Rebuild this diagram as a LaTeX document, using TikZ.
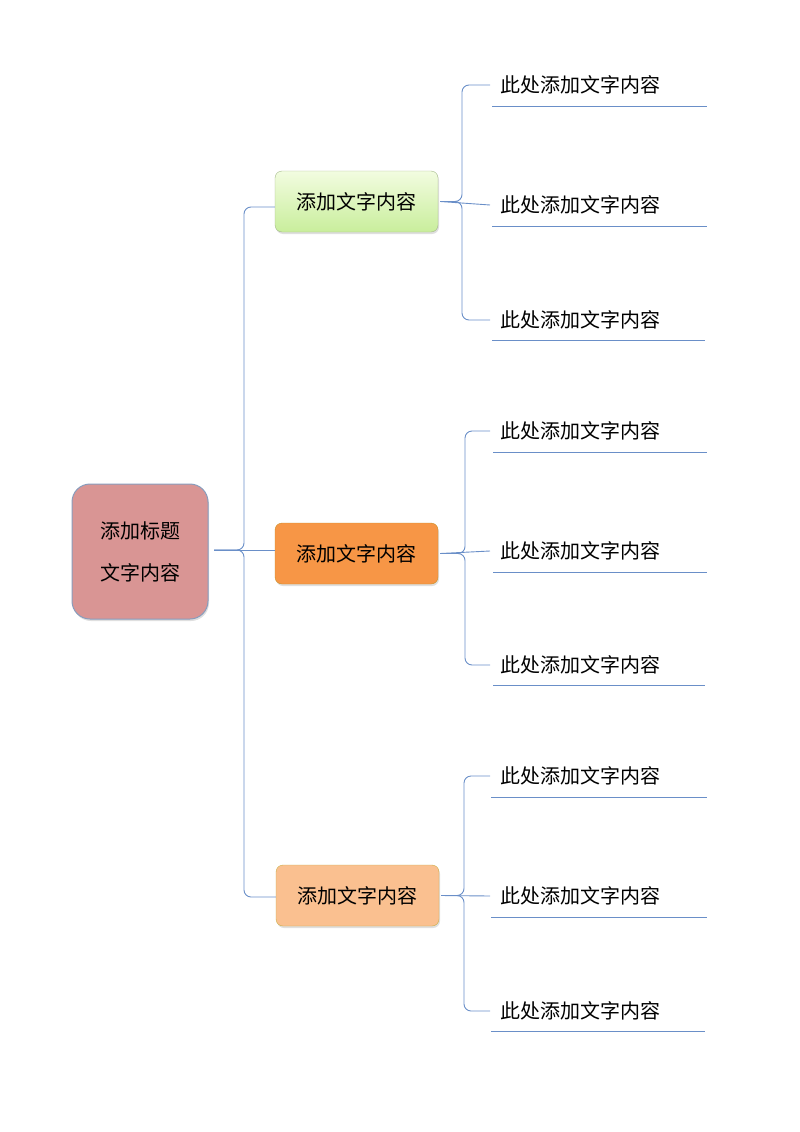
\documentclass[tikz,border=0pt]{standalone}
\usepackage{fontspec}
\setmainfont{Noto Sans CJK SC}
\usetikzlibrary{shadows}
\definecolor{ln}{HTML}{6A8FC8}
\definecolor{rootc}{HTML}{D99594}
\definecolor{orangec}{HTML}{F79646}
\definecolor{peachc}{HTML}{FAC090}
\definecolor{gtop}{HTML}{F2FCE0}
\definecolor{gbot}{HTML}{C9EE9C}
\begin{document}
\begin{tikzpicture}[x=1pt,y=-1pt,
  conn/.style={draw=ln,line width=0.9pt,rounded corners=7pt},
  lvl/.style={rounded corners=7pt,minimum width=163pt,minimum height=61pt,font=\fontsize{20}{24}\selectfont,drop shadow={shadow xshift=1pt,shadow yshift=-2pt,opacity=0.25}},
  leaf/.style={anchor=west,font=\fontsize{20}{24}\selectfont,inner sep=0pt},
  uline/.style={draw=ln,line width=0.9pt}]
\path[use as bounding box] (0,0) rectangle (800,1132);
\node[draw=ln!80!black!70,fill=rootc,rounded corners=18pt,minimum width=136pt,minimum height=135pt,line width=1pt,align=center,font=\fontsize{20}{42}\selectfont,drop shadow={shadow xshift=1pt,shadow yshift=-2pt,opacity=0.25}] (root) at (140,551.5) {添加标题\\文字内容};
\node[lvl,draw=gbot!70!black!80,top color=gtop,bottom color=gbot] (a) at (356.5,201.5) {添加文字内容};
\node[lvl,draw=orangec!70!yellow!80!black,fill=orangec] (b) at (356.5,553.5) {添加文字内容};
\node[lvl,draw=peachc!60!yellow!80!black,fill=peachc] (c) at (357.5,895.5) {添加文字内容};
\coordinate (r0) at (214,550);
\draw[conn] (r0) -| (244,207) -- (a.west|-0,207);
\draw[conn] (r0) -- (b.west|-0,550);
\draw[conn] (r0) -| (244,897) -- (c.west|-0,897);
% leaves
\foreach \g/\sx/\ya/\yb/\yc/\lx/\ll in {a/462/85/205/320/492/707, b/465/431/551/665/493/707, c/464/776/896/1011/491/707}{
  \node[leaf] (\g1) at (500,\ya) {此处添加文字内容};
  \node[leaf] (\g2) at (500,\yb) {此处添加文字内容};
  \node[leaf] (\g3) at (500,\yc) {此处添加文字内容};
  \coordinate (\g0) at ([xshift=2pt]\g.east);
  \draw[conn] (\g0) -| (\sx,\ya) -- ([xshift=-10pt]\g1.west);
  \draw[conn] (\g0) -- ([xshift=-10pt]\g2.west);
  \draw[conn] (\g0) -| (\sx,\yc) -- ([xshift=-10pt]\g3.west);
  \draw[uline] (\lx,\ya+21) -- (\ll,\ya+21);
  \draw[uline] (\lx,\yb+21) -- (\ll,\yb+21);
  \draw[uline] (\lx,\yc+20) -- (\ll-2,\yc+20);
}
\end{tikzpicture}
\end{document}
